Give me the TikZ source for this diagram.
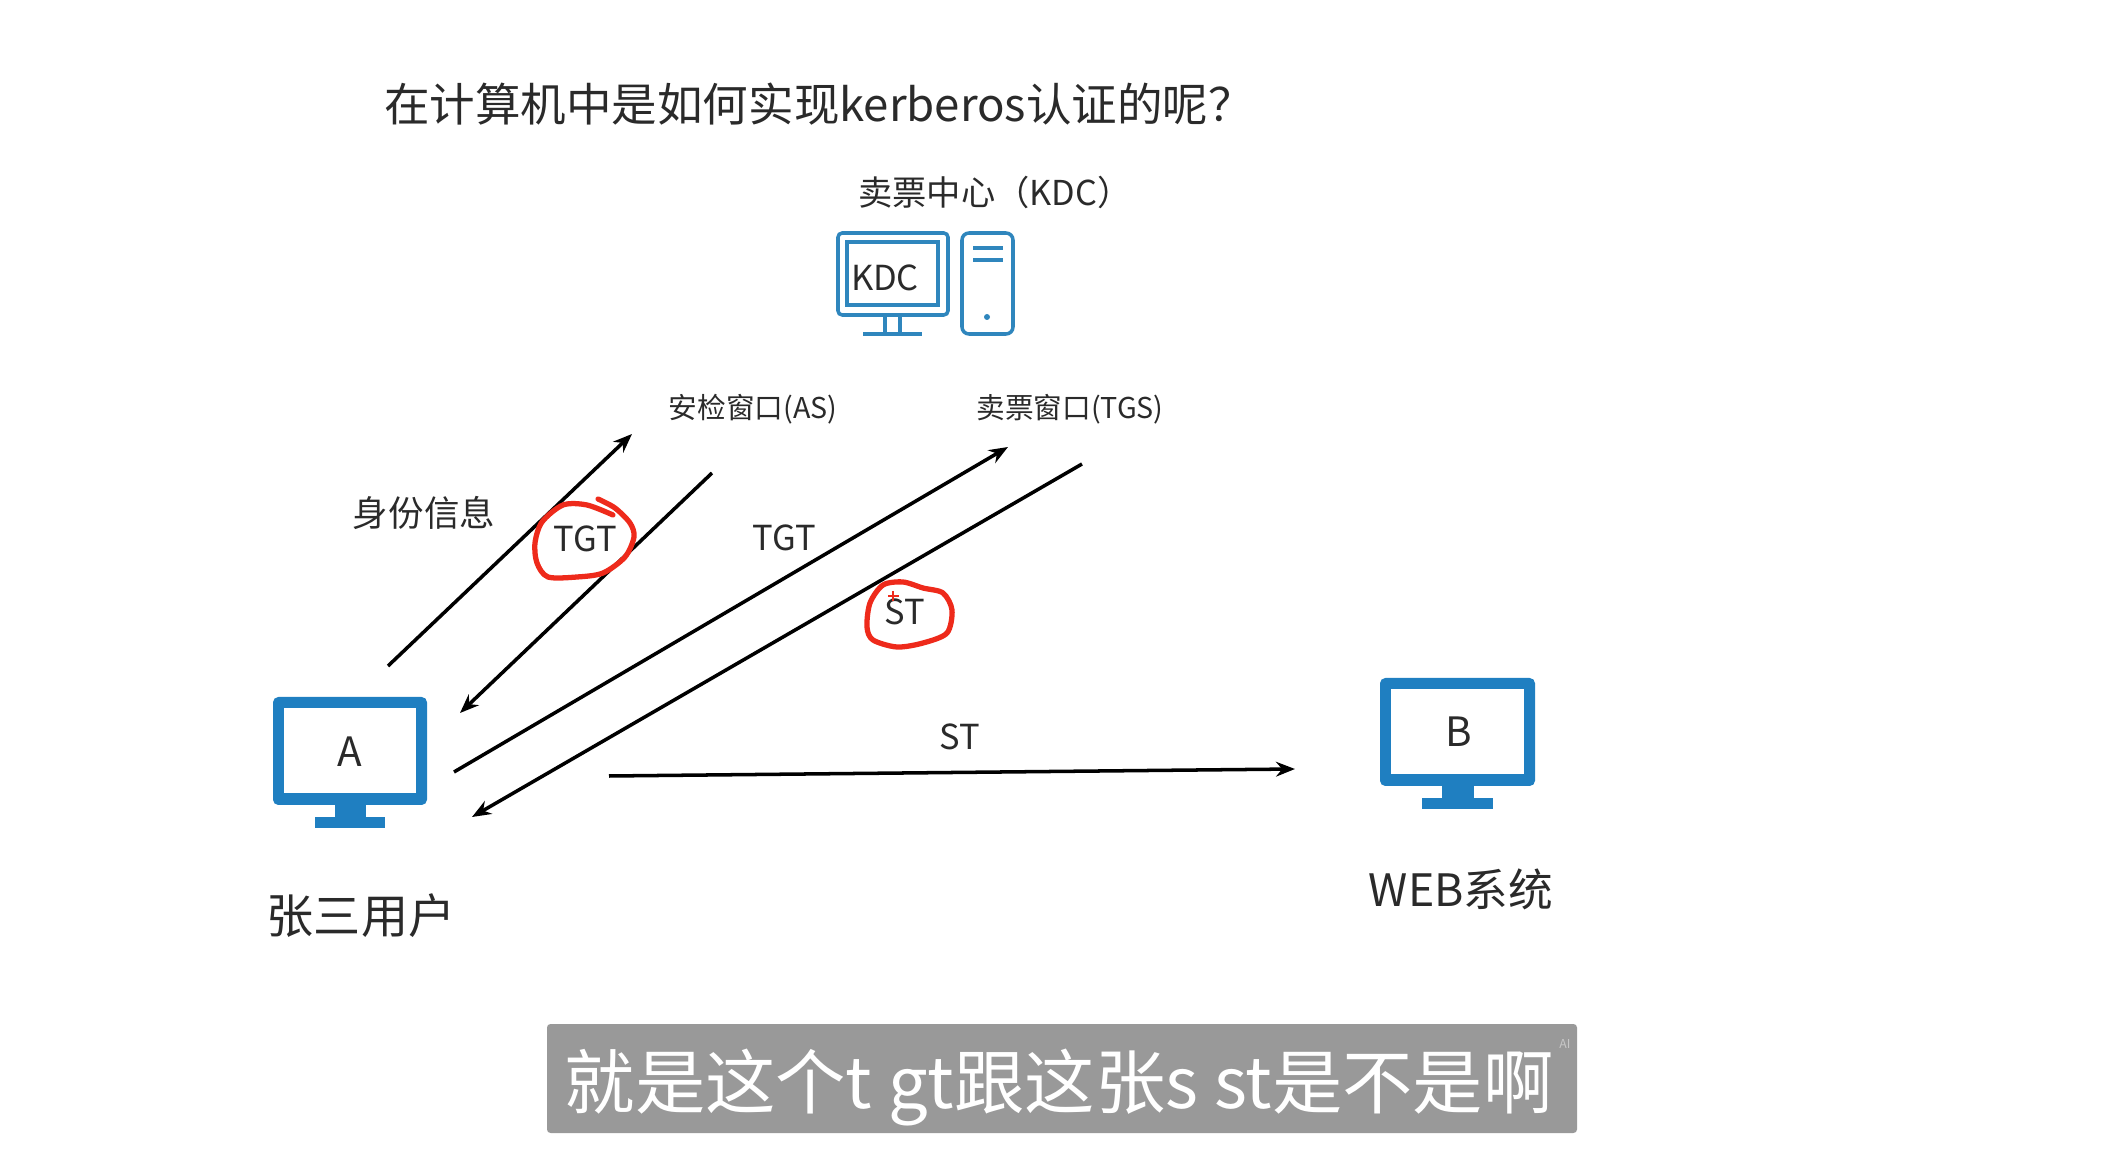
\documentclass[tikz,border=0pt]{standalone}
\usepackage{fontspec}
\usetikzlibrary{arrows.meta}
\setmainfont{Noto Sans CJK SC}
\definecolor{pantalla}{HTML}{1F7FC1}
\definecolor{kdcazul}{HTML}{2F86BD}
\definecolor{texto}{HTML}{2A2A2A}
\definecolor{rotulo}{HTML}{999999}
\definecolor{marca}{HTML}{EE2A1B}
\tikzset{
    flecha/.style={-{Stealth[length=5.4pt, width=4.2pt]}, line width=1pt, black},
    etiqueta/.style={text=texto, inner sep=0pt},
    trazo/.style={marca, line width=1.5pt, line cap=round, line join=round},
    marco/.style={kdcazul, line width=1pt, rounded corners=1.2pt}
}
\begin{document}
\begin{tikzpicture}[x=0.01cm, y=-0.01cm]
    \useasboundingbox (0, 0) rectangle (2126, 1152);

    % Titulo
    \node[etiqueta, font=\fontsize{12.95}{15}\selectfont] (titulo) at (819, 104) {在计算机中是如何实现kerberos认证的呢？};

    % KDC
    \node[etiqueta, font=\fontsize{9.75}{11}\selectfont] (kdc) at (995, 192) {卖票中心（KDC）};
    \draw[marco] (838, 233) rectangle (948, 315);
    \draw[marco, rounded corners=0pt] (847, 242) rectangle (938, 305);
    \draw[marco, rounded corners=0pt] (885, 315) -- (885, 333);
    \draw[marco, rounded corners=0pt] (900, 315) -- (900, 333);
    \draw[marco, rounded corners=0pt] (863, 334) -- (922, 334);
    \draw[marco, rounded corners=2pt] (962, 233) rectangle (1013, 334);
    \draw[marco, rounded corners=0pt] (973, 248) -- (1003, 248);
    \draw[marco, rounded corners=0pt] (973, 260) -- (1003, 260);
    \fill[kdcazul] (987, 317) circle (3);
    \node[etiqueta, font=\fontsize{9.8}{11}\selectfont] (kdctexto) at (885, 278) {KDC};

    % Ventanillas
    \node[etiqueta, font=\fontsize{8.15}{10}\selectfont] (as) at (753, 409) {安检窗口(AS)};
    \node[etiqueta, font=\fontsize{8.15}{10}\selectfont] (tgs) at (1070, 409) {卖票窗口(TGS)};

    % Monitor A
    \fill[pantalla, rounded corners=1.5pt] (273, 697) rectangle (427, 805);
    \fill[white] (284, 708) rectangle (416, 793);
    \fill[pantalla] (335, 805) rectangle (366, 817);
    \fill[pantalla] (315, 817) rectangle (385, 828);
    \node[etiqueta, font=\fontsize{11.5}{13}\selectfont] (a) at (350, 752) {A};
    \node[etiqueta, font=\fontsize{13.4}{15}\selectfont] (usuario) at (361, 916) {张三用户};

    % Monitor B
    \fill[pantalla, rounded corners=1.5pt] (1380, 678) rectangle (1535, 786);
    \fill[white] (1391, 689) rectangle (1524, 774);
    \fill[pantalla] (1442, 786) rectangle (1474, 798);
    \fill[pantalla] (1422, 798) rectangle (1493, 809);
    \node[etiqueta, font=\fontsize{11.5}{13}\selectfont] (b) at (1459, 732) {B};
    \node[etiqueta, font=\fontsize{12.7}{14}\selectfont] (web) at (1461, 889) {WEB系统};

    % Extremos de las flechas
    \coordinate (p1) at (388, 666);
    \coordinate (q1) at (632, 434);
    \coordinate (p2) at (712, 473);
    \coordinate (q2) at (460, 713);
    \coordinate (p3) at (454, 772);
    \coordinate (q3) at (1008, 447);
    \coordinate (p4) at (1082, 464);
    \coordinate (q4) at (472, 817);
    \coordinate (p5) at (609, 776);
    \coordinate (q5) at (1295, 769);

    % Flechas
    \draw[flecha] (p1) -- (q1);
    \draw[flecha] (p2) -- (q2);
    \draw[flecha] (p3) -- (q3);
    \draw[flecha] (p4) -- (q4);
    \draw[flecha] (p5) -- (q5);

    % Etiquetas de las flechas
    \node[etiqueta, font=\fontsize{10.1}{12}\selectfont] (identidad) at (424, 513) {身份信息};
    \node[etiqueta, font=\fontsize{9.8}{11}\selectfont] (tgtuno) at (585, 539) {TGT};
    \node[etiqueta, font=\fontsize{9.8}{11}\selectfont] (tgtdos) at (784, 538) {TGT};
    \node[etiqueta, font=\fontsize{9.8}{11}\selectfont] (stuno) at (905, 612) {ST};
    \node[etiqueta, font=\fontsize{9.8}{11}\selectfont] (stdos) at (960, 737) {ST};

    % Trazos rojos a mano
    \draw[trazo] plot[smooth] coordinates {(598, 499) (615, 508) (630, 523) (634, 537) (625, 557) (603, 573) (577, 577) (548, 577) (537, 563) (535, 543) (542, 522) (563, 505) (587, 505) (613, 515)};
    \draw[trazo] plot[smooth cycle] coordinates {(883, 585) (903, 582) (923, 588) (943, 593) (952, 610) (947, 633) (923, 643) (897, 647) (873, 640) (867, 627) (870, 603)};
    \draw[marca, line width=0.7pt] (888, 596) -- (899, 596);
    \draw[marca, line width=0.7pt] (893, 591) -- (893, 601);

    % Subtitulo
    \fill[rotulo, rounded corners=1pt] (547, 1024) rectangle (1577, 1133);
    \node[inner sep=0pt, text=white, font=\fontsize{20}{24}\selectfont] (subtitulo) at (1059, 1088) {就是这个t gt跟这张s st是不是啊};
    \node[inner sep=0pt, text=white!45!rotulo, font=\fontsize{3.5}{4}\selectfont] (ia) at (1565, 1044) {AI};
\end{tikzpicture}
\end{document}
